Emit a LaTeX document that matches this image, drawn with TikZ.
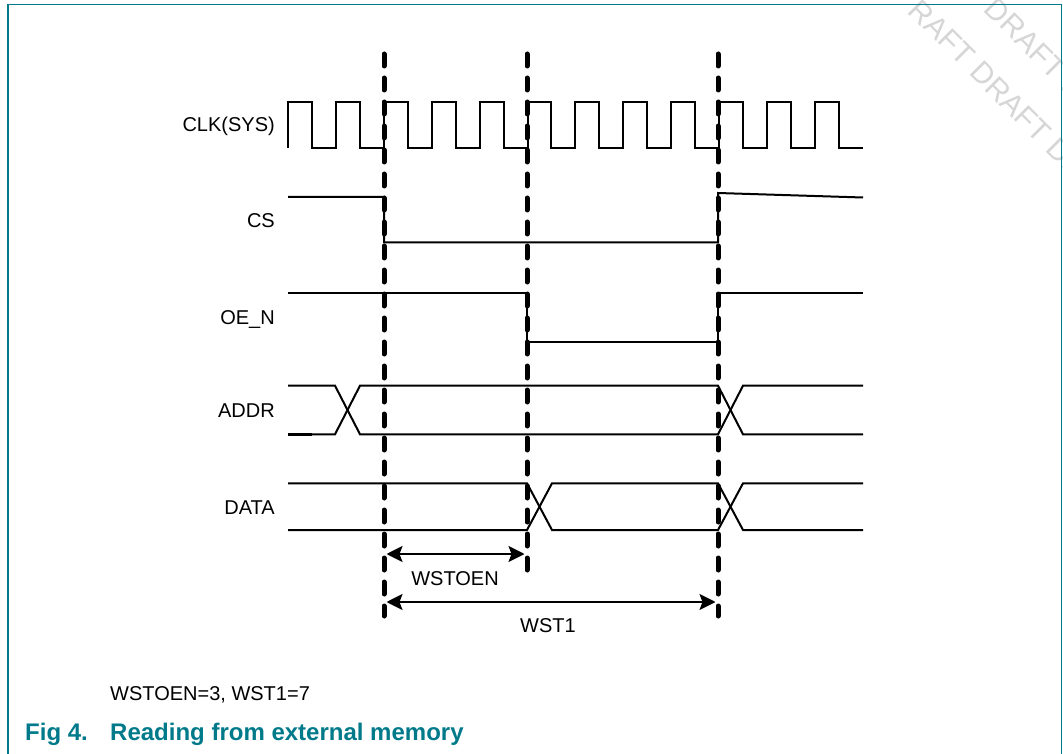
\documentclass[tikz,border=0pt]{standalone}
\usepackage{fontspec}
\setmainfont{Liberation Sans}
\usetikzlibrary{arrows.meta}
\definecolor{nxpteal}{RGB}{0,122,138}
\definecolor{wmgray}{RGB}{214,214,214}
\begin{document}
\begin{tikzpicture}[x=1pt,y=-1pt,
  sig/.style={line width=2pt, line join=miter, line cap=butt},
  guide/.style={line width=5pt, line cap=round, dash pattern=on 12pt off 12pt},
  lab/.style={font=\fontsize{20}{24}\selectfont, inner sep=0pt},
  wm/.style={font=\fontsize{30}{36}\selectfont, text=wmgray, rotate=-45, inner sep=0pt, anchor=west},
  tip/.tip={Stealth[length=16pt,width=16pt,inset=3pt]},
  dim/.style={line width=2pt, tip-tip},
]
\useasboundingbox (0,0) rectangle (1063,754);
\clip (0,0) rectangle (1063,754);
% watermark
\node[wm] (wm1) at (914,5) {RAFT DRAFT DR};
\node[wm] (wm2) at (990,3) {DRAFT D};
% frame
\draw[nxpteal, line width=1.5pt] (8,760) -- (8,4.5) -- (1061.5,4.5) -- (1061.5,760);
% signal labels
\node[lab, anchor=base east] (lclk) at (275,132) {CLK(SYS)};
\node[lab, anchor=base east] (lcs) at (275,227.5) {CS};
\node[lab, anchor=base east] (loe) at (275,324) {OE\_N};
\node[lab, anchor=base east] (laddr) at (275,417) {ADDR};
\node[lab, anchor=base east] (ldata) at (275,514) {DATA};
% clock
\draw[sig] (288,148) \foreach \k in {0,...,11} { -- ++(0,-46) -- ++(23.95,0) -- ++(0,46) -- ++(23.95,0) };
% CS
\draw[sig] (288,197) -- (384,197) -- (384,242.5) -- (718,242.5) -- (718,193) -- (863,197.5);
% OE_N
\draw[sig] (288,292.7) -- (527,292.7) -- (527,341.7) -- (718,341.7) -- (718,292.7) -- (863,292.7);
% ADDR
\draw[sig] (288,385.7) -- (335,385.7) -- (360,434.3) -- (718,434.3) -- (743,385.7) -- (863,385.7);
\draw[sig] (288,434.3) -- (335,434.3) -- (360,385.7) -- (718,385.7) -- (743,434.3) -- (863,434.3);
\draw[line width=2.8pt] (288,434.3) -- (312,434.3);
% DATA
\draw[sig] (288,483.3) -- (527,483.3) -- (552,530) -- (718,530) -- (743,483.3) -- (863,483.3);
\draw[sig] (288,530) -- (527,530) -- (552,483.3) -- (718,483.3) -- (743,530) -- (863,530);
% guide lines
\coordinate (g1t) at (384,54);  \coordinate (g1b) at (384,616);
\coordinate (g2t) at (527,54);  \coordinate (g2b) at (527,570);
\coordinate (g3t) at (718,54);  \coordinate (g3b) at (718,616);
\draw[guide] (g1t) -- (g1b);
\draw[guide] (g2t) -- (g2b);
\draw[guide] (g3t) -- (g3b);
% dimension arrows
\coordinate (a1l) at (386.5,554); \coordinate (a1r) at (524.5,554);
\coordinate (a2l) at (386.5,602); \coordinate (a2r) at (715.5,602);
\draw[dim] (a1l) -- (a1r);
\draw[dim] (a2l) -- (a2r);
\node[lab, anchor=base] (lwstoen) at (455,585) {WSTOEN};
\node[lab, anchor=base] (lwst1) at (548,632) {WST1};
% caption
\node[lab, anchor=base west] (note) at (110,700) {WSTOEN=3, WST1=7};
\node[font=\fontsize{24}{28}\selectfont\bfseries, text=nxpteal, inner sep=0pt, anchor=base west] (fig) at (25,740) {Fig 4.};
\node[font=\fontsize{24}{28}\selectfont\bfseries, text=nxpteal, inner sep=0pt, anchor=base west] (title) at (110,740) {Reading from external memory};
\end{tikzpicture}
\end{document}
